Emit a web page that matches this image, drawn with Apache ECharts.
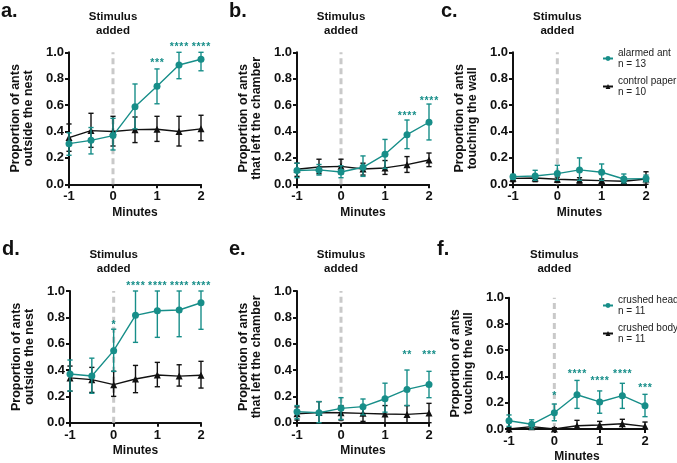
<!DOCTYPE html>
<html><head><meta charset="utf-8">
<script src="https://cdn.jsdelivr.net/npm/echarts@6/dist/echarts.min.js"></script>
<style>html,body{margin:0;padding:0;background:#fff}#c{width:677px;height:463px}</style>
</head><body><div id="c"></div>
<script>
// ---------- data ----------
const minutes = [-1, -0.5, 0, 0.5, 1, 1.5, 2];
const stimulusAt = 0;
const yTicks = [0, 0.2, 0.4, 0.6, 0.8, 1.0];
const xTicks = [-1, 0, 1, 2];

// panel a
const aTeal   = [0.308,0.333,0.369,0.588,0.742,0.904,0.947];
const aTealLo = [0.22,0.23,0.26,0.42,0.61,0.80,0.86];
const aTealHi = [0.39,0.43,0.50,0.76,0.874,1.0,1.0];
const aBlack   = [0.354,0.407,0.40,0.414,0.417,0.40,0.42];
const aBlackLo = [0.25,0.28,0.29,0.316,0.325,0.29,0.33];
const aBlackHi = [0.457,0.538,0.515,0.51,0.515,0.515,0.523];
const aStars = [[1,0.94,'***'],[1.5,1.055,'****'],[2,1.055,'****']];
// panel b
const bTeal   = [0.104,0.109,0.093,0.129,0.227,0.376,0.47];
const bTealLo = [0.05,0.07,0.05,0.06,0.12,0.27,0.336];
const bTealHi = [0.16,0.15,0.14,0.215,0.34,0.487,0.608];
const bBlack   = [0.114,0.131,0.136,0.116,0.124,0.149,0.184];
const bBlackLo = [0.06,0.08,0.08,0.07,0.075,0.09,0.134];
const bBlackHi = [0.16,0.19,0.19,0.16,0.18,0.21,0.237];
const bStars = [[1.5,0.538,'****'],[2,0.646,'****']];
// panel c
const cTeal   = [0.058,0.063,0.081,0.109,0.091,0.04,0.043];
const cTealLo = [0.04,0.03,0.03,0.03,0.03,0.01,0.02];
const cTealHi = [0.075,0.106,0.144,0.2,0.154,0.078,0.07];
const cBlack   = [0.045,0.048,0.038,0.033,0.028,0.023,0.04];
const cBlackLo = [0.02,0.02,0.015,0.01,0.01,0.005,0.0];
const cBlackHi = [0.06,0.07,0.055,0.05,0.04,0.04,0.095];
const cStars = [];
// panel d
const dTeal   = [0.37,0.355,0.547,0.815,0.85,0.856,0.911];
const dTealLo = [0.24,0.223,0.39,0.61,0.648,0.653,0.709];
const dTealHi = [0.476,0.49,0.71,1.0,1.0,1.0,1.0];
const dBlack   = [0.34,0.327,0.289,0.332,0.362,0.354,0.36];
const dBlackLo = [0.24,0.23,0.2,0.228,0.273,0.278,0.263];
const dBlackHi = [0.43,0.42,0.39,0.435,0.458,0.44,0.466];
const dStars = [[0,0.762,'*'],[0.5,1.053,'****'],[1,1.053,'****'],[1.5,1.053,'****'],[2,1.053,'****']];
// panel e
const eTeal   = [0.084,0.076,0.109,0.122,0.182,0.253,0.291];
const eTealLo = [0.03,0.0,0.025,0.06,0.08,0.13,0.19];
const eTealHi = [0.13,0.16,0.19,0.18,0.30,0.40,0.39];
const eBlack   = [0.068,0.078,0.076,0.071,0.066,0.063,0.073];
const eBlackLo = [0.02,0.0,0.02,0.01,0.0,0.0,0.0];
const eBlackHi = [0.12,0.16,0.13,0.12,0.13,0.13,0.147];
const eStars = [[1.5,0.53,'**'],[2,0.53,'***']];
// panel f
const fTeal   = [0.063,0.036,0.124,0.261,0.206,0.254,0.178];
const fTealLo = [0.02,0.0,0.063,0.157,0.12,0.157,0.094];
const fTealHi = [0.107,0.07,0.19,0.37,0.29,0.348,0.264];
const fBlack   = [0.0,0.018,0.0,0.025,0.03,0.04,0.02];
const fBlackLo = [0.0,0.0,0.0,0.0,0.0,0.0,0.0];
const fBlackHi = [0.01,0.03,0.01,0.066,0.058,0.074,0.053];
const fStars = [[0,0.27,'*'],[0.5,0.44,'****'],[1,0.386,'****'],[1.5,0.44,'****'],[2,0.333,'***']];

const topNames = ['alarmed ant', 'control paper'];
const topN = [13, 10];
const botNames = ['crushed head', 'crushed body'];
const botN = [11, 11];
const panelLetters = ['a.', 'b.', 'c.', 'd.', 'e.', 'f.'];
const yNames = ['Proportion of ants\noutside the nest', 'Proportion of ants\nthat left the chamber', 'Proportion of ants\ntouching the wall'];
const stimulusText = 'Stimulus\nadded';
const xName = 'Minutes';

// ---------- layout / style ----------
const TEAL = '#178e89';
const BLACK = '#111111';
const FONT = 'Liberation Sans, Arial, sans-serif';
const grids = [
  {left:69, top:52.3, width:132, height:132},
  {left:297, top:52.3, width:132, height:132},
  {left:513, top:52.3, width:133, height:132},
  {left:70, top:291, width:131, height:131.7},
  {left:297, top:291, width:132, height:131.7},
  {left:509, top:297.7, width:136, height:131.3}
];
const panelData = [
  {t:aTeal,tl:aTealLo,th:aTealHi,k:aBlack,kl:aBlackLo,kh:aBlackHi,s:aStars,names:topNames,y:0},
  {t:bTeal,tl:bTealLo,th:bTealHi,k:bBlack,kl:bBlackLo,kh:bBlackHi,s:bStars,names:topNames,y:1},
  {t:cTeal,tl:cTealLo,th:cTealHi,k:cBlack,kl:cBlackLo,kh:cBlackHi,s:cStars,names:topNames,y:2},
  {t:dTeal,tl:dTealLo,th:dTealHi,k:dBlack,kl:dBlackLo,kh:dBlackHi,s:dStars,names:botNames,y:0},
  {t:eTeal,tl:eTealLo,th:eTealHi,k:eBlack,kl:eBlackLo,kh:eBlackHi,s:eStars,names:botNames,y:1},
  {t:fTeal,tl:fTealLo,th:fTealHi,k:fBlack,kl:fBlackLo,kh:fBlackHi,s:fStars,names:botNames,y:2}
];

function errRender(color) {
  return function (params, api) {
    const x = api.value(0), lo = api.value(1), hi = api.value(2);
    const pHi = api.coord([x, hi]), pLo = api.coord([x, lo]);
    const cw = 2.6;
    const st = {stroke: color, lineWidth: 1.4};
    return {type:'group', children:[
      {type:'line', shape:{x1:pHi[0],y1:pHi[1],x2:pLo[0],y2:pLo[1]}, style:st},
      {type:'line', shape:{x1:pHi[0]-cw,y1:pHi[1],x2:pHi[0]+cw,y2:pHi[1]}, style:st},
      {type:'line', shape:{x1:pLo[0]-cw,y1:pLo[1],x2:pLo[0]+cw,y2:pLo[1]}, style:st}
    ]};
  };
}
function starRender(params, api) {
  const p = api.coord([api.value(0), api.value(1)]);
  const n = String(api.value(2)).length;
  const step = 4.8;
  const children = [];
  for (let k = 0; k < n; k++) {
    children.push({type:'text', x: p[0] + (k - (n - 1) / 2) * step, y: p[1] + 2.5,
      style:{text:'*', fill: TEAL, font: 'bold 10.5px Liberation Sans, Arial, sans-serif',
        align:'center', verticalAlign:'middle'}});
  }
  return {type:'group', children};
}

const axisLine = {show:true, onZero:false, lineStyle:{color:BLACK, width:2}};
const axisTick = {show:true, inside:false, length:4, lineStyle:{color:BLACK, width:2}};
const labelStyle = {color:BLACK, fontFamily:FONT, fontWeight:'bold', fontSize:13};

const option = {
  animation:false,
  backgroundColor:'#ffffff',
  grid: grids.map(g => Object.assign({outerBoundsMode:'none', containLabel:false}, g)),
  xAxis: grids.map((g, i) => ({
    type:'value', gridIndex:i, min:-1, max:2, interval:1,
    axisLine, axisTick, splitLine:{show:false},
    axisLabel: Object.assign({margin:6, formatter: v => String(v)}, labelStyle),
    name: xName, nameLocation:'middle', nameGap:22,
    nameTextStyle:{color:BLACK, fontFamily:FONT, fontWeight:'bold', fontSize:12}
  })),
  yAxis: grids.map((g, i) => ({
    type:'value', gridIndex:i, min:0, max:1, interval:0.2,
    axisLine, axisTick, splitLine:{show:false},
    axisLabel: Object.assign({margin:5, formatter: v => v.toFixed(1)}, labelStyle),
    name: yNames[panelData[i].y], nameLocation:'middle', nameGap:34, nameRotate:90,
    nameTextStyle:{color:BLACK, fontFamily:FONT, fontWeight:'bold', fontSize:12.5, lineHeight:13}
  })),
  legend: [
    {data: topNames, left:602, top:47.5},
    {data: botNames, left:602, top:294.5}
  ].map((l, j) => Object.assign({
    orient:'vertical', itemGap:6, itemWidth:10, itemHeight:6, selectedMode:false, padding:0,
    formatter: name => name + '\nn = ' + (j === 0 ? topN : botN)[(j === 0 ? topNames : botNames).indexOf(name)],
    textStyle:{color:'#222', fontFamily:FONT, fontSize:10, lineHeight:11}
  }, l)),
  series: []
};

panelData.forEach((p, i) => {
  option.series.push({
    type:'line', xAxisIndex:i, yAxisIndex:i, z:1, silent:true,
    data: [[stimulusAt, 0], [stimulusAt, 1]], symbol:'none',
    lineStyle:{color:'#c9c9c9', width:3, type:[6,4]}
  });
  option.series.push({
    type:'custom', xAxisIndex:i, yAxisIndex:i, z:2, silent:true,
    renderItem: errRender(BLACK), encode:{x:0, y:[1,2]},
    data: minutes.map((m, j) => [m, p.kl[j], p.kh[j]])
  });
  option.series.push({
    name: p.names[1], type:'line', xAxisIndex:i, yAxisIndex:i, z:3,
    data: minutes.map((m, j) => [m, p.k[j]]),
    symbol:'triangle', symbolSize:7, showSymbol:true,
    itemStyle:{color:BLACK}, lineStyle:{color:BLACK, width:1.4}
  });
  option.series.push({
    type:'custom', xAxisIndex:i, yAxisIndex:i, z:4, silent:true,
    renderItem: errRender(TEAL), encode:{x:0, y:[1,2]},
    data: minutes.map((m, j) => [m, p.tl[j], p.th[j]])
  });
  option.series.push({
    name: p.names[0], type:'line', xAxisIndex:i, yAxisIndex:i, z:5,
    data: minutes.map((m, j) => [m, p.t[j]]),
    symbol:'circle', symbolSize:7, showSymbol:true,
    itemStyle:{color:TEAL}, lineStyle:{color:TEAL, width:1.4}
  });
  if (p.s.length) option.series.push({
    type:'custom', xAxisIndex:i, yAxisIndex:i, z:6, silent:true, clip:false,
    renderItem: starRender, encode:{x:0, y:1},
    data: p.s
  });
});

const chart = echarts.init(document.getElementById('c'), null, {renderer:'canvas'});
chart.setOption(option);

// titles and panel letters anchored to each panel's axes
const graphics = [];
grids.forEach((g, i) => {
  const p0 = chart.convertToPixel({gridIndex:i}, [stimulusAt, 1]);
  const row = i < 3 ? 0 : 1;
  graphics.push({type:'text', x:p0[0], y: row === 0 ? 10 : 248,
    style:{text: stimulusText, fill:BLACK, font:'bold 11.5px ' + FONT, lineHeight:14, align:'center', verticalAlign:'top'}});
  graphics.push({type:'text', x: g.left - 68 + (i % 3 === 2 ? -4 : 0), y: row === 0 ? 1 : 239,
    style:{text: panelLetters[i], fill:BLACK, font:'bold 20px ' + FONT, align:'left', verticalAlign:'top'}});
});
chart.setOption({graphic: graphics});
</script>
</body></html>
